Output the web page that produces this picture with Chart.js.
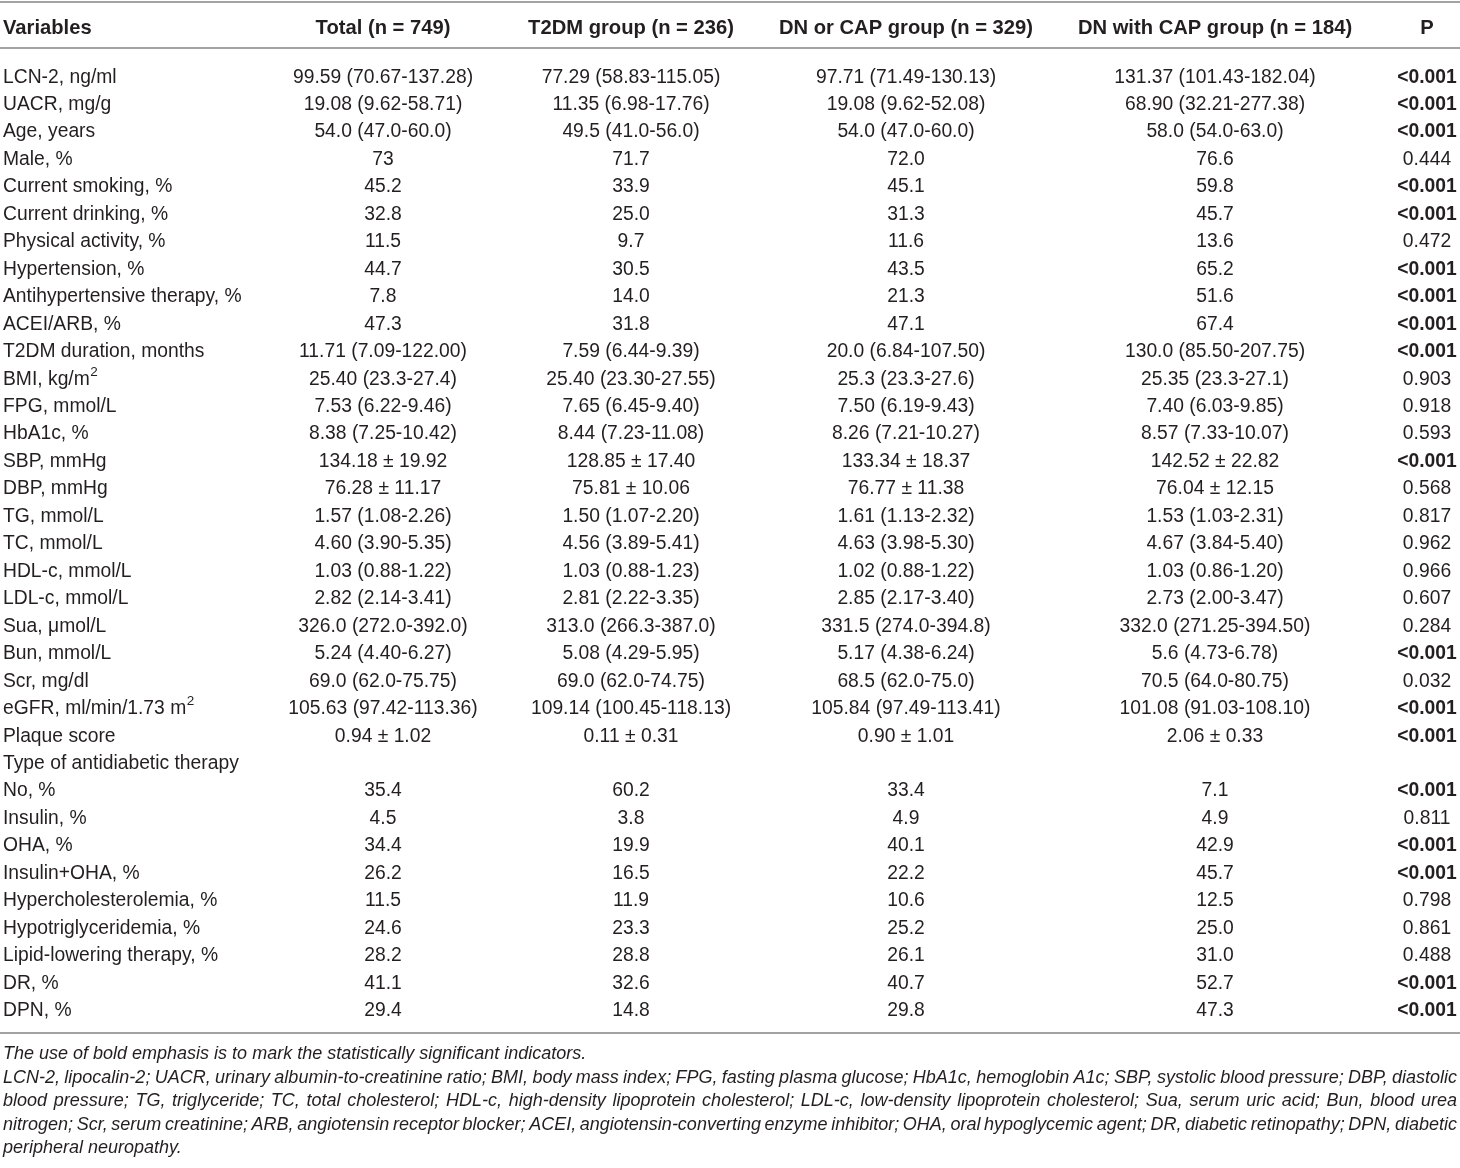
<!DOCTYPE html>
<html>
<head>
<meta charset="utf-8">
<script src="https://cdn.jsdelivr.net/npm/chart.js@4/dist/chart.umd.min.js"></script>
<style>
  html, body { margin: 0; padding: 0; background: #fff; }
  canvas { display: block; }
</style>
</head>
<body>
<canvas id="baselineTable" width="1460" height="1168"></canvas>
<script>
// table content, one array per column
const headers = ['Variables', 'Total (n = 749)', 'T2DM group (n = 236)', 'DN or CAP group (n = 329)', 'DN with CAP group (n = 184)', 'P'];

const variables = [
  'LCN-2, ng/ml', 'UACR, mg/g', 'Age, years', 'Male, %', 'Current smoking, %', 'Current drinking, %',
  'Physical activity, %', 'Hypertension, %', 'Antihypertensive therapy, %', 'ACEI/ARB, %',
  'T2DM duration, months', 'BMI, kg/m²', 'FPG, mmol/L', 'HbA1c, %', 'SBP, mmHg', 'DBP, mmHg',
  'TG, mmol/L', 'TC, mmol/L', 'HDL-c, mmol/L', 'LDL-c, mmol/L', 'Sua, μmol/L', 'Bun, mmol/L',
  'Scr, mg/dl', 'eGFR, ml/min/1.73 m²', 'Plaque score', 'Type of antidiabetic therapy', 'No, %',
  'Insulin, %', 'OHA, %', 'Insulin+OHA, %', 'Hypercholesterolemia, %', 'Hypotriglyceridemia, %',
  'Lipid-lowering therapy, %', 'DR, %', 'DPN, %'
];

const totalValues = [
  '99.59 (70.67-137.28)', '19.08 (9.62-58.71)', '54.0 (47.0-60.0)', '73', '45.2', '32.8', '11.5', '44.7',
  '7.8', '47.3', '11.71 (7.09-122.00)', '25.40 (23.3-27.4)', '7.53 (6.22-9.46)', '8.38 (7.25-10.42)',
  '134.18 ± 19.92', '76.28 ± 11.17', '1.57 (1.08-2.26)', '4.60 (3.90-5.35)', '1.03 (0.88-1.22)',
  '2.82 (2.14-3.41)', '326.0 (272.0-392.0)', '5.24 (4.40-6.27)', '69.0 (62.0-75.75)',
  '105.63 (97.42-113.36)', '0.94 ± 1.02', '', '35.4', '4.5', '34.4', '26.2', '11.5', '24.6', '28.2',
  '41.1', '29.4'
];

const t2dmValues = [
  '77.29 (58.83-115.05)', '11.35 (6.98-17.76)', '49.5 (41.0-56.0)', '71.7', '33.9', '25.0', '9.7', '30.5',
  '14.0', '31.8', '7.59 (6.44-9.39)', '25.40 (23.30-27.55)', '7.65 (6.45-9.40)', '8.44 (7.23-11.08)',
  '128.85 ± 17.40', '75.81 ± 10.06', '1.50 (1.07-2.20)', '4.56 (3.89-5.41)', '1.03 (0.88-1.23)',
  '2.81 (2.22-3.35)', '313.0 (266.3-387.0)', '5.08 (4.29-5.95)', '69.0 (62.0-74.75)',
  '109.14 (100.45-118.13)', '0.11 ± 0.31', '', '60.2', '3.8', '19.9', '16.5', '11.9', '23.3', '28.8',
  '32.6', '14.8'
];

const dnOrCapValues = [
  '97.71 (71.49-130.13)', '19.08 (9.62-52.08)', '54.0 (47.0-60.0)', '72.0', '45.1', '31.3', '11.6', '43.5',
  '21.3', '47.1', '20.0 (6.84-107.50)', '25.3 (23.3-27.6)', '7.50 (6.19-9.43)', '8.26 (7.21-10.27)',
  '133.34 ± 18.37', '76.77 ± 11.38', '1.61 (1.13-2.32)', '4.63 (3.98-5.30)', '1.02 (0.88-1.22)',
  '2.85 (2.17-3.40)', '331.5 (274.0-394.8)', '5.17 (4.38-6.24)', '68.5 (62.0-75.0)',
  '105.84 (97.49-113.41)', '0.90 ± 1.01', '', '33.4', '4.9', '40.1', '22.2', '10.6', '25.2', '26.1',
  '40.7', '29.8'
];

const dnWithCapValues = [
  '131.37 (101.43-182.04)', '68.90 (32.21-277.38)', '58.0 (54.0-63.0)', '76.6', '59.8', '45.7', '13.6', '65.2',
  '51.6', '67.4', '130.0 (85.50-207.75)', '25.35 (23.3-27.1)', '7.40 (6.03-9.85)', '8.57 (7.33-10.07)',
  '142.52 ± 22.82', '76.04 ± 12.15', '1.53 (1.03-2.31)', '4.67 (3.84-5.40)', '1.03 (0.86-1.20)',
  '2.73 (2.00-3.47)', '332.0 (271.25-394.50)', '5.6 (4.73-6.78)', '70.5 (64.0-80.75)',
  '101.08 (91.03-108.10)', '2.06 ± 0.33', '', '7.1', '4.9', '42.9', '45.7', '12.5', '25.0', '31.0',
  '52.7', '47.3'
];

const pValues = [
  '<0.001', '<0.001', '<0.001', '0.444', '<0.001', '<0.001', '0.472', '<0.001', '<0.001', '<0.001',
  '<0.001', '0.903', '0.918', '0.593', '<0.001', '0.568', '0.817', '0.962', '0.966', '0.607', '0.284',
  '<0.001', '0.032', '<0.001', '<0.001', '', '<0.001', '0.811', '<0.001', '<0.001', '0.798', '0.861',
  '0.488', '<0.001', '<0.001'
];

const footnoteLead = 'The use of bold emphasis is to mark the statistically significant indicators.';
const footnoteLines = [
  'LCN-2, lipocalin-2; UACR, urinary albumin-to-creatinine ratio; BMI, body mass index; FPG, fasting plasma glucose; HbA1c, hemoglobin A1c; SBP, systolic blood pressure; DBP, diastolic',
  'blood pressure; TG, triglyceride; TC, total cholesterol; HDL-c, high-density lipoprotein cholesterol; LDL-c, low-density lipoprotein cholesterol; Sua, serum uric acid; Bun, blood urea',
  'nitrogen; Scr, serum creatinine; ARB, angiotensin receptor blocker; ACEI, angiotensin-converting enzyme inhibitor; OHA, oral hypoglycemic agent; DR, diabetic retinopathy; DPN, diabetic',
  'peripheral neuropathy.'
];

// layout (x scale runs in canvas units so the column anchors are easy to tune)
const columns = [variables, totalValues, t2dmValues, dnOrCapValues, dnWithCapValues, pValues];
const colAnchors = [3, 383, 631, 906, 1215, 1427];
const colAlign = ['left', 'center', 'center', 'center', 'center', 'center'];
const FONT = '"Liberation Sans", Arial, Helvetica, sans-serif';
const TEXT = '#231f20';
const RULE = '#a3a3a3';
const NUDGE = 1.5; // text sits a bit below the row centre

function drawCell(ctx, text, px, py, align, font) {
  ctx.font = font;
  if (text.indexOf('²') < 0) {
    ctx.textAlign = align;
    ctx.fillText(text, px, py);
    return;
  }
  // superscript 2 drawn by hand
  const base = text.replace('²', '');
  ctx.textAlign = 'left';
  ctx.fillText(base, px, py);
  const w = ctx.measureText(base).width;
  ctx.font = '13.5px ' + FONT;
  ctx.fillText('2', px + w + 0.5, py - 7);
}

function drawJustified(ctx, text, x0, x1, py) {
  const words = text.split(' ');
  let wordsWidth = 0;
  words.forEach(w => { wordsWidth += ctx.measureText(w).width; });
  const gap = (x1 - x0 - wordsWidth) / (words.length - 1);
  let cx = x0;
  ctx.textAlign = 'left';
  words.forEach(w => {
    ctx.fillText(w, cx, py);
    cx += ctx.measureText(w).width + gap;
  });
}

const tablePlugin = {
  id: 'tableText',
  afterDraw(chart) {
    const { ctx, chartArea, scales: { x, y } } = chart;
    ctx.save();
    ctx.textBaseline = 'middle';
    ctx.fillStyle = TEXT;

    // rules
    const topRule = chartArea.top - 60;
    const headRule = chartArea.top - 14;
    const bottomRule = chartArea.bottom + 10;
    ctx.strokeStyle = RULE;
    ctx.lineWidth = 2;
    [topRule, headRule, bottomRule].forEach(ry => {
      ctx.beginPath();
      ctx.moveTo(x.getPixelForValue(0), ry);
      ctx.lineTo(x.getPixelForValue(1460), ry);
      ctx.stroke();
    });

    // header
    const headY = y.getPixelForValue(0) - 49 + NUDGE;
    headers.forEach((h, c) => {
      drawCell(ctx, h, x.getPixelForValue(colAnchors[c]), headY, colAlign[c], 'bold 20.2px ' + FONT);
    });

    // body
    columns.forEach((col, c) => {
      const px = x.getPixelForValue(colAnchors[c]);
      col.forEach((txt, r) => {
        if (!txt) return;
        const bold = c === columns.length - 1 && txt.charAt(0) === '<';
        drawCell(ctx, txt, px, y.getPixelForValue(r) + NUDGE, colAlign[c], (bold ? 'bold ' : '') + '19.3px ' + FONT);
      });
    });

    // footnotes
    ctx.font = 'italic 18px ' + FONT;
    ctx.textAlign = 'left';
    let fy = bottomRule + 21;
    ctx.fillText(footnoteLead, x.getPixelForValue(3), fy);
    footnoteLines.forEach((line, i) => {
      fy += 23.6;
      if (i < footnoteLines.length - 1) {
        drawJustified(ctx, line, x.getPixelForValue(3), x.getPixelForValue(1457), fy);
      } else {
        ctx.fillText(line, x.getPixelForValue(3), fy);
      }
    });
    ctx.restore();
  }
};

new Chart('baselineTable', {
  type: 'scatter',
  data: {
    labels: variables,
    datasets: []
  },
  options: {
    responsive: false,
    animation: false,
    devicePixelRatio: 1,
    layout: { padding: { top: 62, bottom: 145, left: 0, right: 0 } },
    plugins: { legend: { display: false }, tooltip: { enabled: false } },
    scales: {
      x: { type: 'linear', min: 0, max: 1460, display: false },
      y: { type: 'category', labels: variables, offset: true, display: false }
    }
  },
  plugins: [tablePlugin]
});
</script>
</body>
</html>
